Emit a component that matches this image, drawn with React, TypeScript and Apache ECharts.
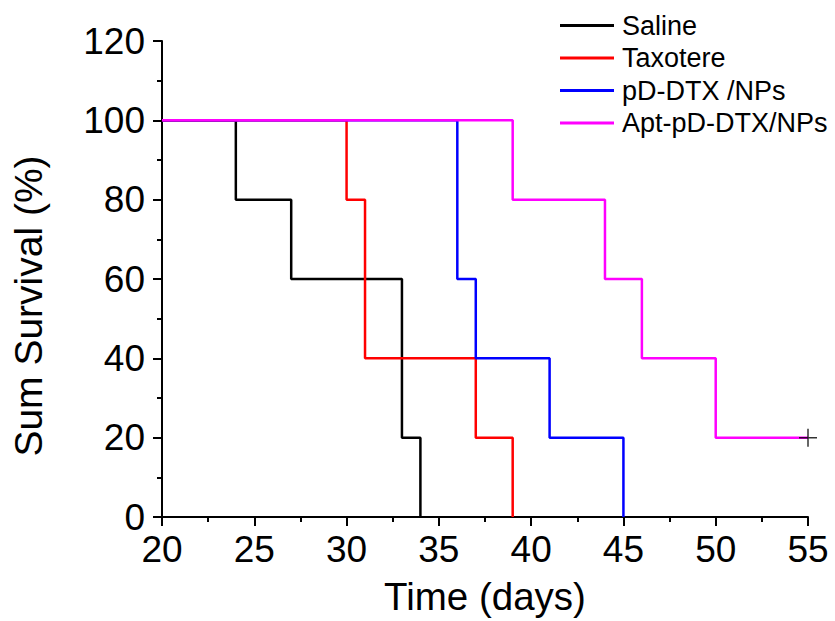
import React, { useEffect, useRef } from "react";
import * as echarts from "echarts";

const seriesNames = ["Saline", "Taxotere", "pD-DTX /NPs", "Apt-pD-DTX/NPs"];
const seriesColors = ["#000000", "#ff0000", "#0000ff", "#ff00ff"];

const salineData: [number, number][] = [[20, 100], [24, 80], [27, 60], [33, 20], [34, 0]];
const taxotereData: [number, number][] = [[20, 100], [30, 80], [31, 40], [37, 20], [39, 0]];
const pdDtxData: [number, number][] = [[20, 100], [36, 60], [37, 40], [41, 20], [45, 0]];
const aptData: [number, number][] = [[20, 100], [39, 80], [44, 60], [46, 40], [50, 20], [55, 20]];
const censorPoints: [number, number][] = [[55, 20]];

const FONT = "Liberation Sans, Arial, Helvetica, sans-serif";

export default function App() {
  const ref = useRef<HTMLDivElement>(null);
  useEffect(() => {
    if (!ref.current) return;
    const chart = echarts.init(ref.current, undefined, { renderer: "svg" });
    const allData = [salineData, taxotereData, pdDtxData, aptData];
    const axisCommon = {
      axisLine: { show: true, lineStyle: { color: "#000", width: 2 } },
      axisTick: { show: true, inside: false, length: 9, lineStyle: { color: "#000", width: 2 } },
      minorTick: { show: true, splitNumber: 2, length: 5, lineStyle: { color: "#000", width: 2 } },
      splitLine: { show: false },
    };
    chart.setOption({
      animation: false,
      backgroundColor: "#fff",
      grid: { left: 162, right: 27, top: 41, bottom: 103, containLabel: false },
      legend: {
        orient: "vertical",
        left: 560,
        top: 12,
        padding: 0,
        itemWidth: 54,
        itemHeight: 14,
        itemGap: 5.5,
        textStyle: { fontFamily: FONT, fontSize: 27, color: "#000", lineHeight: 27, padding: [0, 0, 0, 3] },
        data: seriesNames.map((n) => ({ name: n, icon: "path://M0,0 L54,0 L54,3 L0,3 Z" })),
      },
      xAxis: {
        type: "value",
        min: 20,
        max: 55,
        interval: 5,
        name: "Time (days)",
        nameLocation: "middle",
        nameGap: 60,
        nameTextStyle: { fontFamily: FONT, fontSize: 38.5, color: "#000" },
        ...axisCommon,
        axisLabel: { fontFamily: FONT, fontSize: 37, color: "#000", margin: 14 },
      },
      yAxis: {
        type: "value",
        min: 0,
        max: 120,
        interval: 20,
        name: "Sum Survival (%)",
        nameLocation: "middle",
        nameGap: 114,
        nameTextStyle: { fontFamily: FONT, fontSize: 39, color: "#000", padding: [0, 54, 0, 0] },
        ...axisCommon,
        axisLabel: { fontFamily: FONT, fontSize: 37, color: "#000", margin: 17 },
      },
      series: [
        ...allData.map((d, i) => ({
          name: seriesNames[i],
          type: "line",
          step: "end",
          data: d,
          symbol: "none",
          lineStyle: { color: seriesColors[i], width: 2.5 },
          itemStyle: { color: seriesColors[i] },
        })),
        {
          name: "censor",
          type: "scatter",
          data: censorPoints,
          symbol: "path://M0,-10 L0,10 M-10,0 L10,0",
          symbolSize: 18,
          itemStyle: { color: "none", borderColor: "#000", borderWidth: 1.5 },
          z: 5,
        },
      ],
    });
    return () => chart.dispose();
  }, []);
  return <div ref={ref} style={{ width: 835, height: 621, position: "absolute", left: 0, top: 0 }} />;
}
